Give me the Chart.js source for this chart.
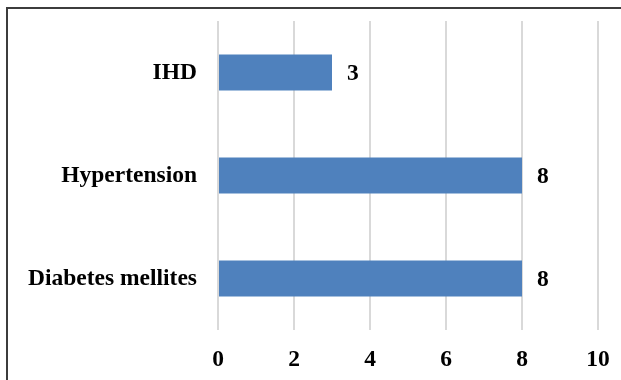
<!DOCTYPE html>
<html>
<head>
<meta charset="utf-8">
<script src="https://cdn.jsdelivr.net/npm/chart.js@4/dist/chart.umd.min.js"></script>
<style>
  html, body { margin: 0; padding: 0; background: #fff; overflow: hidden; }
  #wrap { position: relative; width: 621px; height: 380px; }
  #frame { position: absolute; left: 6px; top: 7px; width: 700px; height: 500px; border: 2px solid #3c3c3c; box-sizing: border-box; }
  canvas { position: absolute; left: 0; top: 0; }
</style>
</head>
<body>
<div id="wrap">
  <div id="frame"></div>
  <canvas id="c" width="621" height="380"></canvas>
</div>
<script>
// Conditions and their counts
const categories = ['IHD', 'Hypertension', 'Diabetes mellites'];
const counts = [3, 8, 8];
const xTicks = [0, 2, 4, 6, 8, 10];

const labelFont = { family: '"Liberation Serif", "Times New Roman", serif', size: 23.5, weight: 'bold' };

// Writes each bar's value just past its end
const valueLabels = {
  id: 'valueLabels',
  afterDatasetsDraw(chart) {
    const ctx = chart.ctx;
    const meta = chart.getDatasetMeta(0);
    ctx.save();
    ctx.font = `bold ${labelFont.size}px ${labelFont.family}`;
    ctx.fillStyle = '#000';
    ctx.textAlign = 'left';
    ctx.textBaseline = 'middle';
    meta.data.forEach((bar, i) => {
      ctx.fillText(String(counts[i]), bar.x + 15, bar.y + 1);
    });
    ctx.restore();
  }
};

// Fixed axis sizes with no extra label padding around the plot
function fixSize(prop, value) {
  return function (scale) {
    scale[prop] = value;
    scale.paddingTop = 0;
    scale.paddingBottom = 0;
    scale.paddingLeft = 0;
    scale.paddingRight = 0;
  };
}

new Chart(document.getElementById('c'), {
  type: 'bar',
  data: {
    labels: categories,
    datasets: [{
      data: counts,
      backgroundColor: '#4F81BD',
      borderWidth: 0,
      categoryPercentage: 1,
      barPercentage: 0.35
    }]
  },
  options: {
    indexAxis: 'y',
    responsive: false,
    animation: false,
    layout: { padding: { left: 0, right: 23, top: 21, bottom: 0 } },
    plugins: { legend: { display: false }, tooltip: { enabled: false } },
    scales: {
      x: {
        min: 0,
        max: 10,
        afterBuildTicks(scale) { scale.ticks = xTicks.map(v => ({ value: v })); },
        afterFit: fixSize('height', 50),
        grid: { color: '#d9d9d9', lineWidth: 2, drawTicks: false },
        border: { display: false },
        ticks: { color: '#000', font: labelFont, padding: 16, maxRotation: 0 }
      },
      y: {
        afterFit: fixSize('width', 218),
        grid: { display: false, drawTicks: false },
        border: { display: false },
        ticks: { color: '#000', font: labelFont, padding: 21 }
      }
    }
  },
  plugins: [valueLabels]
});
</script>
</body>
</html>
